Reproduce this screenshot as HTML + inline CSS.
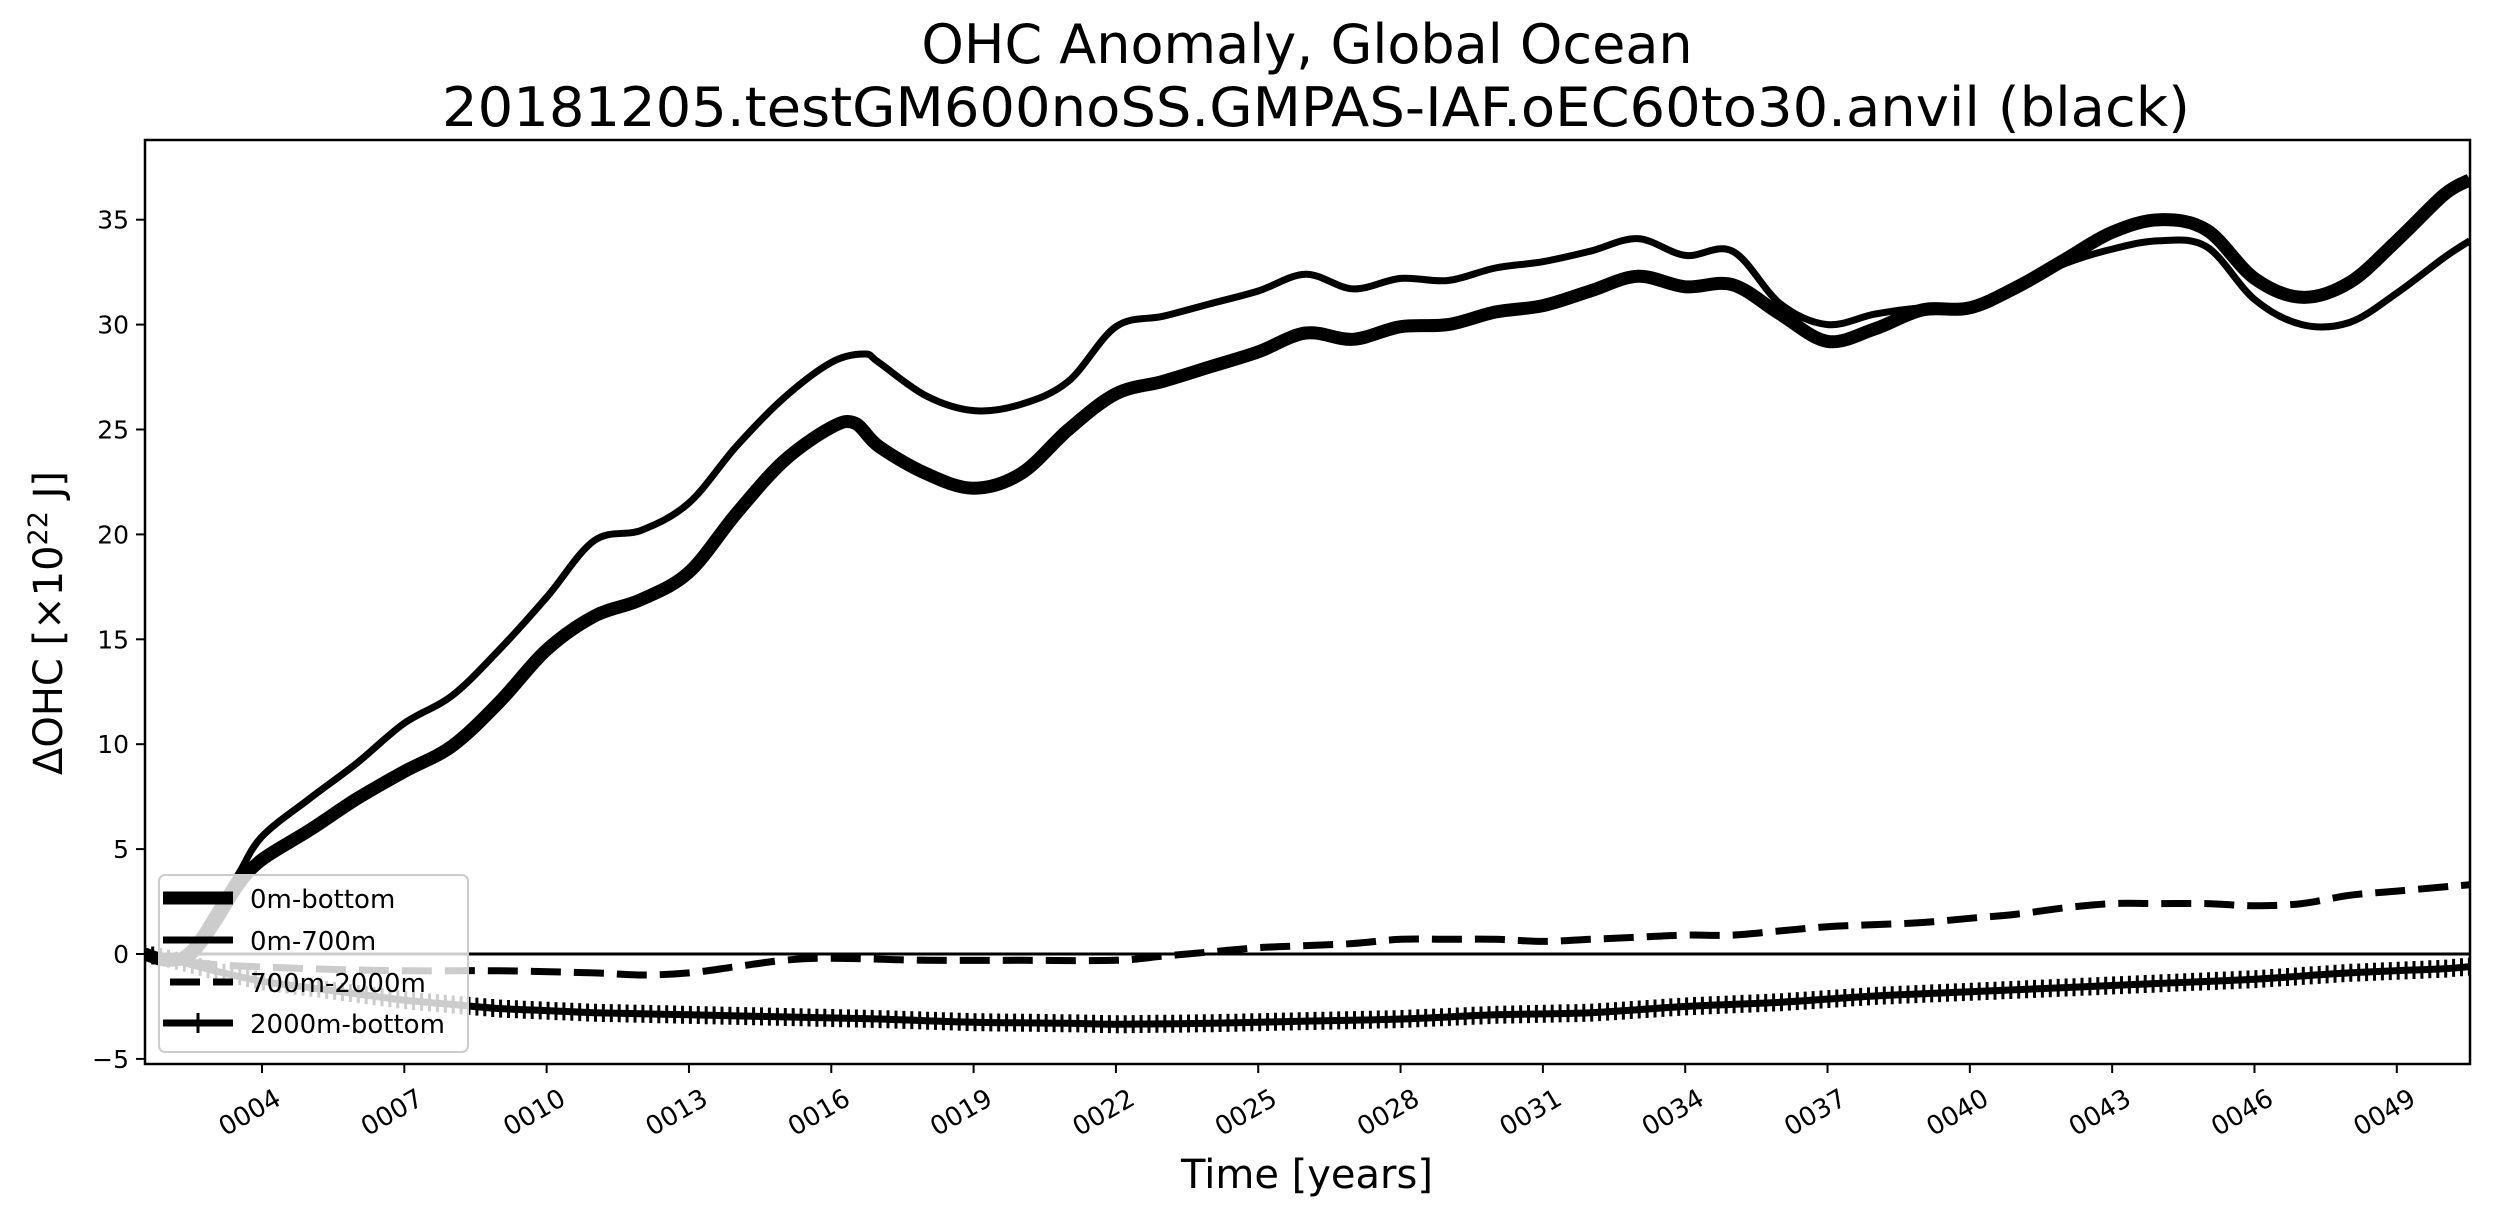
<!DOCTYPE html>
<html><head><meta charset="utf-8"><style>
html,body{margin:0;padding:0;background:#fff;}
svg{display:block;font-family:"DejaVu Sans","Liberation Sans",sans-serif;}
</style></head><body>
<svg id="chart" width="2493" height="1218" viewBox="0 0 2493 1218" xmlns="http://www.w3.org/2000/svg">
<rect width="2493" height="1218" fill="#fff"/>
<text x="1307" y="63" font-size="54" text-anchor="middle">OHC Anomaly, Global Ocean</text>
<text x="1316" y="126" font-size="54" text-anchor="middle" textLength="1748" lengthAdjust="spacingAndGlyphs">20181205.testGM600noSS.GMPAS-IAF.oEC60to30.anvil (black)</text>
<g id="plot"></g>
<text x="1307" y="1188" font-size="40" text-anchor="middle">Time [years]</text>
<text transform="translate(62,623) rotate(-90)" font-size="40" text-anchor="middle">ΔOHC [×10<tspan baseline-shift="super" font-size="27">22</tspan> J]</text>
</svg>
<script>
const yrsA=[1.53,2,2.5,3,3.5,4,5,6,7,8,9,10,11,12,13,14,15,16,16.5,17,18,19,20,21,22,23,24,25,26,27,28,29,30,31,32,33,34,35,36,37,38,39,40,41,42,43,44,45,46,47,48,49,50,50.54];
const bottomVals=[0,-0.3,0,1.5,3.3,4.5,5.9,7.4,8.7,9.9,12,14.5,16.1,16.9,18.2,21,23.5,25.1,25.3,24.2,22.9,22.2,22.9,25,26.7,27.3,28,28.7,29.6,29.3,29.9,30,30.6,30.9,31.6,32.3,31.8,31.9,30.5,29.2,29.8,30.7,30.8,31.8,33.1,34.4,35,34.5,32.2,31.3,32,34,36.2,36.9];
const yrsB=[1.53,2,2.5,3,3.5,4,5,6,7,8,9,10,11,12,13,14,15,16,16.7,17,18,19,20,21,22,23,24,25,26,27,28,29,30,31,32,33,34,35,36,37,38,39,40,41,42,43,44,45,46,47,48,49,50,50.54];
const upperVals=[0,-0.3,0.3,2,3.8,5.6,7.4,9.1,11,12.3,14.5,17,19.7,20.2,21.5,24.2,26.5,28.2,28.6,28.2,26.6,25.9,26.2,27.3,29.9,30.4,31,31.6,32.4,31.7,32.2,32.1,32.7,33,33.5,34.1,33.3,33.5,31,30,30.5,30.8,30.8,31.8,32.9,33.6,34,33.7,31.2,30,30.1,31.5,33.2,34];
const yrsC=[1.53,2,3,5,7,9,11,12,13,14,15,16,18,20,22,23,24,25,26,27,28,29,30,31,32,33,34,35,36,37,38,39,40,41,42,43,44,45,46,47,48,49,50,50.54];
const midVals=[0,-0.2,-0.5,-0.7,-0.8,-0.8,-0.9,-1.0,-0.9,-0.6,-0.3,-0.2,-0.3,-0.3,-0.3,-0.1,0.1,0.3,0.4,0.5,0.7,0.7,0.7,0.6,0.7,0.8,0.9,0.9,1.1,1.3,1.4,1.5,1.7,1.9,2.2,2.4,2.4,2.4,2.3,2.4,2.8,3.0,3.2,3.3];
const yrsD=[1.53,2,3,4,5,6,7,8,9,10,11,13,15,17,19,21,22,24,26,28,30,32,34,36,38,40,42,44,46,48,50,50.54];
const deepVals=[0,-0.2,-0.8,-1.3,-1.6,-1.9,-2.2,-2.4,-2.6,-2.7,-2.8,-2.9,-3.0,-3.1,-3.25,-3.3,-3.35,-3.3,-3.2,-3.1,-2.9,-2.8,-2.5,-2.3,-2.0,-1.8,-1.6,-1.4,-1.2,-0.9,-0.7,-0.6];
const xTicks=[4,7,10,13,16,19,22,25,28,31,34,37,40,43,46,49];
const yTicks=[-5,0,5,10,15,20,25,30,35];

const L=145,R=2470,T=140,B=1064;
const X=v=>262+(v-4)*47.44;
const Y=v=>954-v*20.98;
const NS='http://www.w3.org/2000/svg';
const plot=document.getElementById('plot');
function mk(tag,attrs,parent){const e=document.createElementNS(NS,tag);for(const k in attrs)e.setAttribute(k,attrs[k]);(parent||plot).appendChild(e);return e;}
function pathD(xs,ys){
  const p=xs.map((x,i)=>[X(x),Y(ys[i])]);
  let d='M'+p[0][0].toFixed(1)+','+p[0][1].toFixed(1);
  for(let i=0;i<p.length-1;i++){
    const p0=p[Math.max(0,i-1)],p1=p[i],p2=p[i+1],p3=p[Math.min(p.length-1,i+2)];
    const c1=[p1[0]+(p2[0]-p0[0])/6,p1[1]+(p2[1]-p0[1])/6];
    const c2=[p2[0]-(p3[0]-p1[0])/6,p2[1]-(p3[1]-p1[1])/6];
    d+=' C'+c1[0].toFixed(1)+','+c1[1].toFixed(1)+' '+c2[0].toFixed(1)+','+c2[1].toFixed(1)+' '+p2[0].toFixed(1)+','+p2[1].toFixed(1);
  }
  return d;
}
function interp(xs,ys,x){for(let i=0;i<xs.length-1;i++){if(x<=xs[i+1]){const t=(x-xs[i])/(xs[i+1]-xs[i]);return ys[i]+t*(ys[i+1]-ys[i]);}}return ys[ys.length-1];}

mk('clipPath',{id:'clip'}).appendChild(document.createElementNS(NS,'rect'));
const cr=plot.querySelector('#clip rect');cr.setAttribute('x',L);cr.setAttribute('y',T);cr.setAttribute('width',R-L);cr.setAttribute('height',B-T);
const g=mk('g',{'clip-path':'url(#clip)'});



const zl=mk('line',{x1:L,x2:R,y1:Y(0),y2:Y(0),stroke:'#000','stroke-width':3},g);



const s1=mk('path',{d:pathD(yrsA,bottomVals),fill:'none',stroke:'#000','stroke-width':13,'stroke-linejoin':'round'},g);


const s2=mk('path',{d:pathD(yrsB,upperVals),fill:'none',stroke:'#000','stroke-width':7,'stroke-linejoin':'round'},g);


const s3=mk('path',{d:pathD(yrsC,midVals),fill:'none',stroke:'#000','stroke-width':7,'stroke-dasharray':'30 13'},g);


const s4=mk('path',{d:pathD(yrsD,deepVals),fill:'none',stroke:'#000','stroke-width':7},g);


let md='';
for(let x=yrsD[0];x<=yrsD[yrsD.length-1];x+=1/6){const px=X(x),py=Y(interp(yrsD,deepVals,x));md+='M'+px.toFixed(1)+','+(py-9).toFixed(1)+'V'+(py+9).toFixed(1);}
const mm=mk('path',{d:md,stroke:'#000','stroke-width':3,fill:'none'},g);



const fr=mk('rect',{x:L,y:T,width:R-L,height:B-T,fill:'none',stroke:'#000','stroke-width':2.5});



xTicks.forEach(t=>{
  const tk=mk('line',{x1:X(t),x2:X(t),y1:B,y2:B+9,stroke:'#000','stroke-width':2});
  
  
  const cx=X(t)-8, cy=B+56;
  const tx=mk('text',{x:cx,y:cy,'font-size':26,'text-anchor':'middle',transform:'rotate(-30 '+cx+' '+cy+')'});
  tx.textContent=String(t).padStart(4,'0');
  
  
});
yTicks.forEach(t=>{
  const tk=mk('line',{x1:L-9,x2:L,y1:Y(t),y2:Y(t),stroke:'#000','stroke-width':2});
  
  
  const tx=mk('text',{x:L-16,y:Y(t)+9,'font-size':25,'text-anchor':'end'});
  tx.textContent=t<0?'\u2212'+Math.abs(t):String(t);
  
  
});

const lg=mk('g',{});


mk('rect',{x:159,y:875,width:309,height:177,rx:6,fill:'#fff','fill-opacity':0.8,stroke:'#ccc','stroke-width':2},lg);
const entries=[['0m-bottom',13,''],['0m-700m',7,''],['700m-2000m',7,'30 13'],['2000m-bottom',7,'']];
const ly=[898,940,982,1023];
entries.forEach((e,i)=>{
  const a=mk('line',{x1:163,x2:233,y1:ly[i],y2:ly[i],stroke:'#000','stroke-width':e[1]},lg);
  if(e[2])a.setAttribute('stroke-dasharray',e[2]);
  if(i==2){a.setAttribute('x1',170);}
  
  
  if(i==3){const m=mk('line',{x1:198,x2:198,y1:ly[i]-10,y2:ly[i]+10,stroke:'#000','stroke-width':3},lg);}
  const t=mk('text',{x:250,y:ly[i]+10,'font-size':26},lg);
  t.textContent=e[0];
  
  
});
</script>
</body></html>
